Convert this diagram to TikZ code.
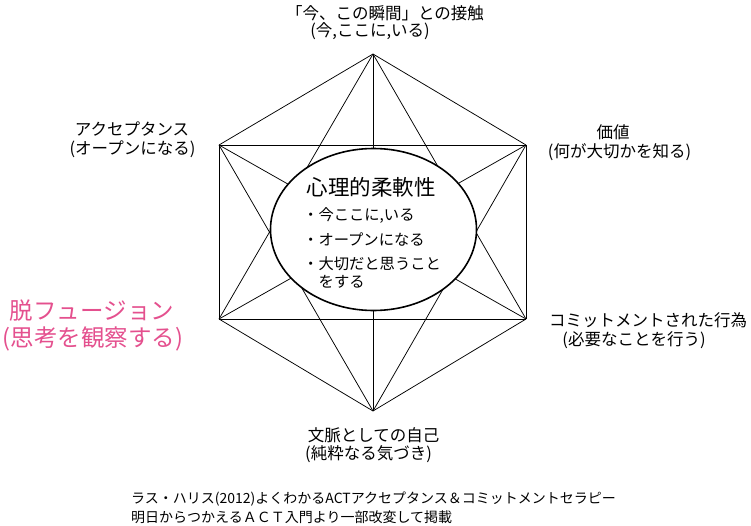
\documentclass[tikz,border=0pt]{standalone}
\usepackage{fontspec}
\setmainfont{Noto Sans CJK JP}
\usetikzlibrary{shapes.geometric}
\definecolor{pinktext}{RGB}{228,80,142}
\begin{document}
\begin{tikzpicture}[x=1pt,y=-1pt,
  edge/.style={draw=black, line width=0.75pt},
  lbl/.style={inner sep=0pt, font=\fontsize{16.5}{18}\selectfont},
  pinklbl/.style={inner sep=0pt, text=pinktext, font=\fontsize{23.5}{26}\selectfont},
  core/.style={draw=black, fill=white, ellipse, line width=1.6pt, inner sep=0pt},
  coretitle/.style={inner sep=0pt, font=\fontsize{21.5}{24}\selectfont},
  bullet/.style={inner sep=0pt, anchor=west, font=\fontsize{15.3}{17}\selectfont},
  cite/.style={inner sep=0pt, anchor=west, font=\fontsize{14}{16}\selectfont}]
\useasboundingbox (0,0) rectangle (751,525);
% vertices
\coordinate (T)  at (373,54);
\coordinate (UR) at (526,145);
\coordinate (LR) at (526,319);
\coordinate (B)  at (373,411);
\coordinate (LL) at (219,319);
\coordinate (UL) at (219,145);
% all connections
\foreach \a/\b in {T/UR,T/LR,T/B,T/LL,T/UL,UR/LR,UR/B,UR/LL,UR/UL,LR/B,LR/LL,LR/UL,B/LL,B/UL,LL/UL}
  \draw[edge] (\a) -- (\b);
% central ellipse
\node[core, minimum width=206pt, minimum height=162pt] (core) at (373.5,229.5) {};
\node[coretitle] (ct) at (371,187) {心理的柔軟性};
\node[bullet] (b1) at (303,215) {・今ここに,いる};
\node[bullet] (b2) at (303,240) {・オープンになる};
\node[bullet] (b3) at (303,264) {・大切だと思うこと};
\node[bullet] (b4) at (318.5,282) {をする};
% labels
\node[lbl] (t1) at (385,13) {「今、この瞬間」との接触};
\node[lbl] (t2) at (370,31) {(今,ここに,いる)};
\node[lbl] (a1) at (132,129) {アクセプタンス};
\node[lbl] (a2) at (132.5,149) {(オープンになる)};
\node[lbl] (v1) at (613,132) {価値};
\node[lbl] (v2) at (619.5,152) {(何が大切かを知る)};
\node[lbl] (c1) at (648,320) {コミットメントされた行為};
\node[lbl] (c2) at (634,340) {(必要なことを行う)};
\node[lbl] (s1) at (373.5,435) {文脈としての自己};
\node[lbl] (s2) at (368.5,454) {(純粋なる気づき)};
\node[pinklbl] (d1) at (92,311) {脱フュージョン};
\node[pinklbl] (d2) at (93,339) {(思考を観察する)};
\node[cite] (r1) at (131,499) {ラス・ハリス(2012)よくわかるACTアクセプタンス＆コミットメントセラピー};
\node[cite] (r2) at (131,517) {明日からつかえるＡＣＴ入門より一部改変して掲載};
\end{tikzpicture}
\end{document}
